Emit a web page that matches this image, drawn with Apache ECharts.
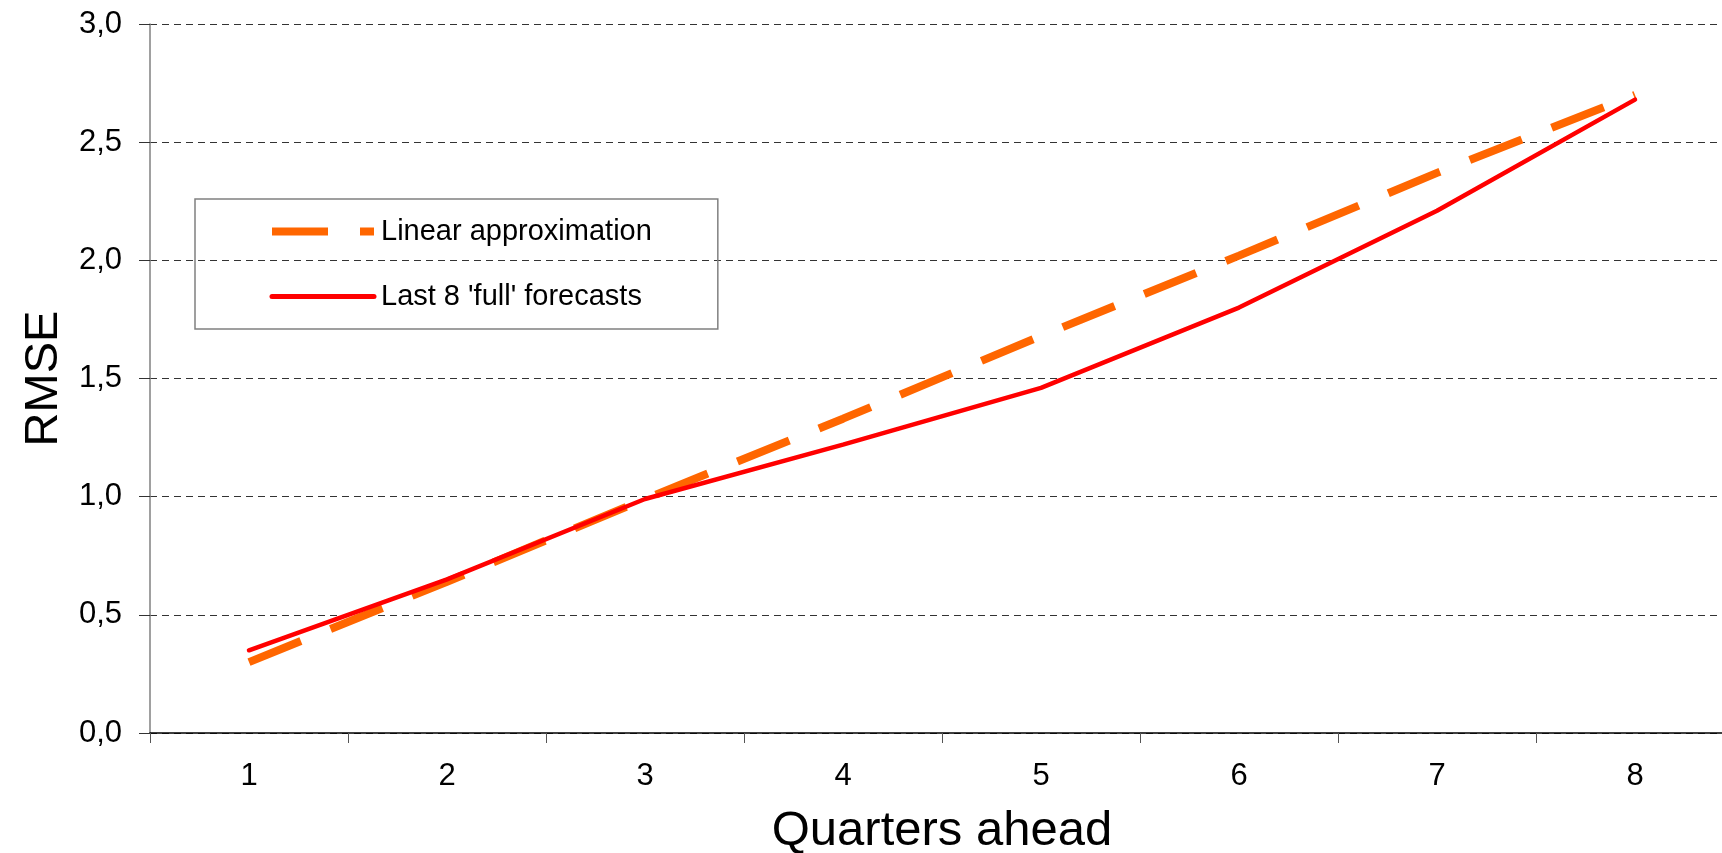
<!DOCTYPE html>
<html>
<head>
<meta charset="utf-8">
<title>RMSE by quarters ahead</title>
<script src="https://cdn.jsdelivr.net/npm/echarts@6/dist/echarts.min.js"></script>
<style>
  html, body { margin: 0; padding: 0; background: #fff; }
  #chart { width: 1722px; height: 853px; }
</style>
</head>
<body>
<div id="chart"></div>
<script>
// categories on the x axis
const quarters = ['1', '2', '3', '4', '5', '6', '7', '8'];
// RMSE values
const linearApprox = [0.30, 0.64, 0.99, 1.33, 1.68, 2.02, 2.37, 2.70];
const lastFull = [0.35, 0.65, 0.99, 1.22, 1.46, 1.80, 2.21, 2.68];
const seriesNames = ['Linear approximation', "Last 8 'full' forecasts"];

const font = "'Liberation Sans', Arial, sans-serif";
const chart = echarts.init(document.getElementById('chart'));

chart.setOption({
  animation: false,
  backgroundColor: '#ffffff',
  textStyle: { fontFamily: font },
  grid: { left: 150, top: 24, bottom: 120, width: 1584, outerBoundsMode: 'none', containLabel: false },
  legend: {
    orient: 'vertical',
    left: 195,
    top: 199,
    padding: [18, 66, 18, 73],
    borderColor: '#808080',
    borderWidth: 1.5,
    itemWidth: 102,
    itemHeight: 30,
    itemGap: 36,
    itemStyle: { opacity: 0 },
    textStyle: { fontSize: 29, color: '#000', fontFamily: font, padding: [0, 0, 0, 2] },
    data: [
      { name: seriesNames[0], itemStyle: { opacity: 0 },
        lineStyle: { color: '#ff6600', width: 8, type: [56, 32], cap: 'butt' } },
      { name: seriesNames[1], itemStyle: { opacity: 0 },
        lineStyle: { color: '#ff0000', width: 5, type: 'solid', cap: 'round' } }
    ]
  },
  xAxis: {
    type: 'category',
    data: quarters,
    boundaryGap: true,
    name: 'Quarters ahead',
    nameLocation: 'middle',
    nameGap: 74,
    nameTextStyle: { fontSize: 49, color: '#000', fontFamily: font },
    axisLine: { lineStyle: { color: '#000', width: 1.5 } },
    axisTick: { show: true, length: 10, lineStyle: { color: '#555' } },
    axisLabel: { fontSize: 31, color: '#000', margin: 28, fontFamily: font },
    splitLine: { show: false }
  },
  yAxis: {
    type: 'value',
    min: 0,
    max: 3,
    interval: 0.5,
    name: 'RMSE',
    nameLocation: 'middle',
    nameGap: 79,
    nameTextStyle: { fontSize: 47, color: '#000', fontFamily: font },
    axisLine: { show: true, lineStyle: { color: '#808080', width: 1.5 } },
    axisTick: { show: true, length: 11, lineStyle: { color: '#333' } },
    axisLabel: {
      fontSize: 31,
      color: '#000',
      margin: 28,
      fontFamily: font,
      formatter: v => v.toFixed(1).replace('.', ',')
    },
    splitLine: { show: true, lineStyle: { color: '#333', width: 1, type: [7, 5] } }
  },
  series: [
    {
      name: seriesNames[0],
      type: 'line',
      data: linearApprox,
      symbol: 'none',
      color: '#ff6600',
      lineStyle: { color: '#ff6600', width: 8, type: [56, 32], cap: 'butt' }
    },
    {
      name: seriesNames[1],
      type: 'line',
      data: lastFull,
      symbol: 'none',
      color: '#ff0000',
      lineStyle: { color: '#ff0000', width: 4.5, cap: 'round' }
    }
  ]
});
</script>
</body>
</html>
